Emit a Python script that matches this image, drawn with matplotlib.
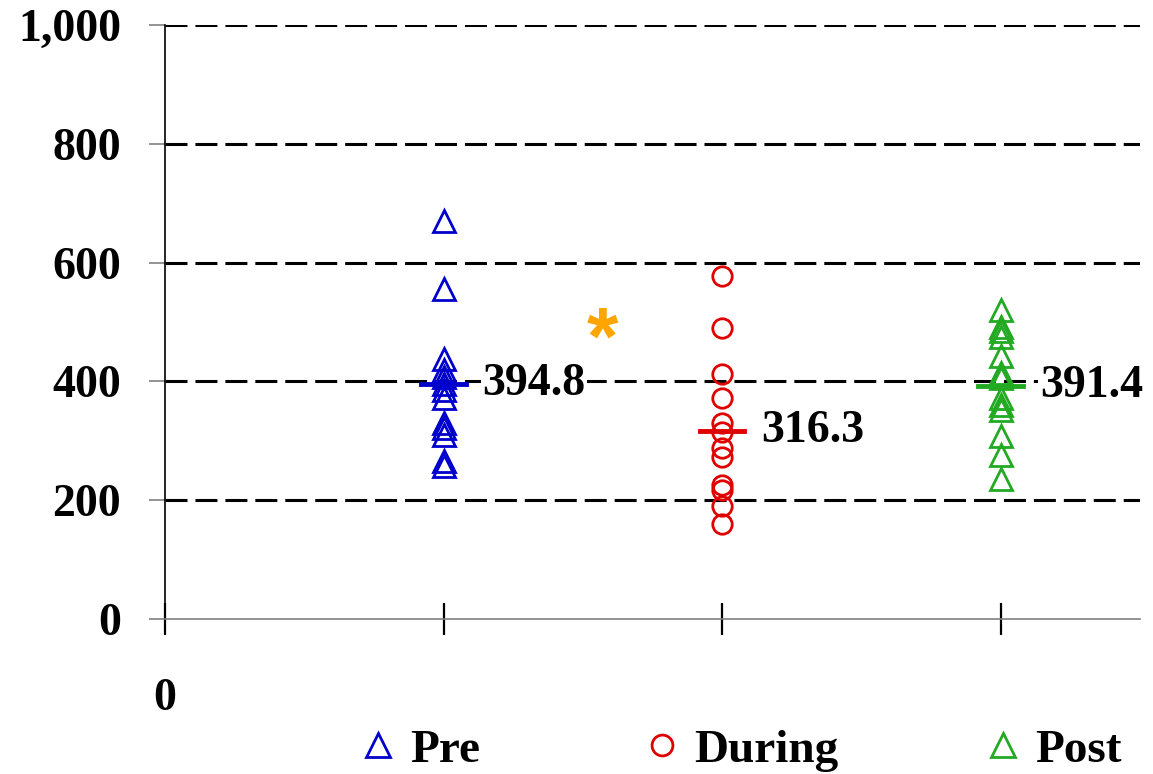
import matplotlib.pyplot as plt
from matplotlib.lines import Line2D

# Data
groups = ['Pre', 'During', 'Post']
pre_vals = [670, 555, 438, 420, 407, 395, 386, 372, 330, 322, 310, 266, 258]
during_vals = [577, 490, 412, 372, 330, 315, 287, 272, 226, 217, 190, 160]
post_vals = [520, 492, 484, 475, 442, 414, 405, 372, 360, 352, 308, 276, 236]
means = [394.8, 316.3, 391.4]
star_pos = (1.57, 466)

colors = ['#0000cc', '#e00000', '#22aa22']
markers = ['^', 'o', '^']
sizes = [16, 14, 16]

font = {'family': 'Liberation Serif', 'weight': 'bold'}

fig = plt.figure(figsize=(11.53, 7.74), dpi=100)
ax = fig.add_axes([0.1431, 0.2003, 0.8456, 0.7674])

# dashed grid lines
for yv in [200, 400, 600, 800, 1000]:
    ax.axhline(yv, color='black', lw=2.2, dashes=(7.2, 2.6), zorder=1)

all_vals = [pre_vals, during_vals, post_vals]
for i, vals in enumerate(all_vals):
    xpos = i + 1
    ax.plot([xpos] * len(vals), vals, ls='none', marker=markers[i], ms=sizes[i],
            mfc='none', mec=colors[i], mew=2, zorder=3)
    # mean line
    ax.plot([xpos - 0.08, xpos + 0.08], [means[i], means[i]], color=colors[i], lw=3.5, zorder=4)
    ax.text(xpos + 0.14, means[i], f'{means[i]:.1f}', ha='left', va='center', fontsize=33,
            color='black', zorder=5,
            bbox=dict(facecolor='white', edgecolor='none', pad=1), **font)

# significance marker
ax.text(star_pos[0], star_pos[1], '*', ha='center', va='center', fontsize=58, color='#ffa500',
        family='Liberation Sans', weight='bold', zorder=5)

ax.set_xlim(0, 3.5)
ax.set_ylim(0, 1000)

ax.set_yticks([0, 200, 400, 600, 800, 1000])
ax.set_yticklabels(['0', '200', '400', '600', '800', '1,000'], fontsize=33, **font)
ax.tick_params(axis='y', direction='out', length=11.5, width=1.2, color='#808080', pad=20)

ax.set_xticks([0, 1, 2, 3])
ax.set_xticklabels(['0', '', '', ''], fontsize=33, **font)
ax.tick_params(axis='x', direction='inout', length=23, width=1.6, color='black', pad=31)

ax.spines['top'].set_visible(False)
ax.spines['right'].set_visible(False)
ax.spines['left'].set_linewidth(1.2)
ax.spines['bottom'].set_color('#808080')
ax.spines['bottom'].set_linewidth(1.2)

# legend, one entry per group
leg_x = [0.3114, 0.5577, 0.8537]
for i, g in enumerate(groups):
    h = Line2D([], [], ls='none', marker=markers[i], ms=sizes[i] + 1, mfc='none',
               mec=colors[i], mew=2)
    fig.legend(handles=[h], labels=[g], loc='center left', bbox_to_anchor=(leg_x[i], 0.031),
               frameon=False, borderpad=0, borderaxespad=0, handlelength=0.8,
               handletextpad=0.28, prop={'family': 'Liberation Serif', 'weight': 'bold', 'size': 34})

fig.savefig('out.png', dpi=100)
